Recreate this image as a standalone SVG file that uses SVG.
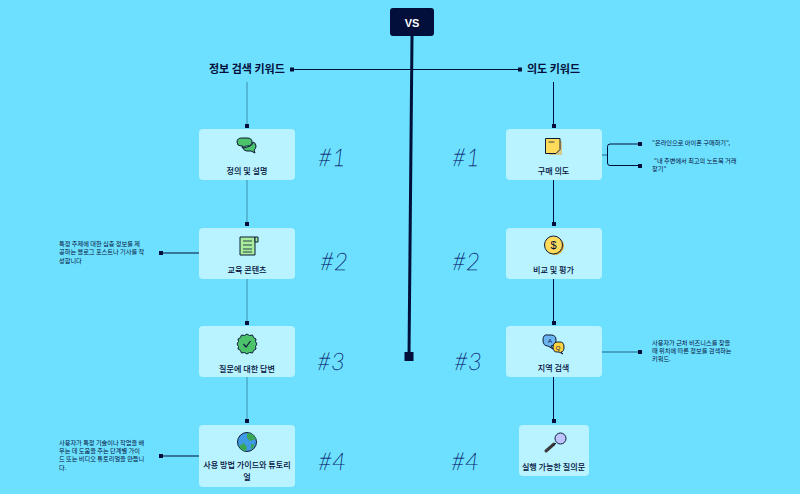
<svg xmlns="http://www.w3.org/2000/svg" width="800" height="494" viewBox="0 0 800 494">
<style>
text{font-family:"Noto Sans CJK KR","Noto Sans",sans-serif;fill:#020f3a}
.n{fill:#b8f3ff}
.l{font-size:8.100px;text-anchor:middle;font-weight:500}
.t{font-size:11px;font-weight:700}
.s{font-size:6.200px}
.h{font-family:"Lato","Liberation Sans",sans-serif;font-size:24px;font-style:italic;font-weight:100;fill:#0a1f6e;stroke:#0a1f6e;stroke-width:.35px;text-anchor:middle}
.c{stroke:#020f3a;stroke-width:1;fill:none}
.c2{stroke:#3b8fae;stroke-width:1;fill:none}
.d{fill:#020f3a}
.i{stroke:#0b1b3a;stroke-width:1}
</style>
<rect width="800" height="494" fill="#6de0ff"/>
<g id="connectors">
<path d="M412 36L409 356" stroke="#020f3a" stroke-width="3" fill="none"/>
<path class="c" d="M292 69.500H520"/>
<path class="c2" d="M247 82V125M247 180V223M247 279V322M247 377V420"/>
<path class="c" d="M553.500 82V125M553.500 180V223M553.500 279V322M553.500 377V420"/>
<path class="c" d="M161 253H199M161 456H199"/>
<path d="M602 155H607" stroke="#3b8fae" stroke-width="1.500" fill="none"/>
<path class="c" d="M640 144H610Q607.500 144 607.500 146.500V163Q607.500 165.500 610 165.500H640"/>
<path d="M602 352H640" stroke="#3b8fae" stroke-width="1.500" fill="none"/>
<g class="d">
<rect x="404.500" y="352" width="9" height="9"/>
<rect x="290" y="67.500" width="4" height="4"/><rect x="518" y="67.500" width="4" height="4"/>
<rect x="245" y="124" width="4" height="4"/><rect x="245" y="222" width="4" height="4"/><rect x="245" y="321" width="4" height="4"/><rect x="245" y="419" width="4" height="4"/>
<rect x="552" y="124" width="4" height="4"/><rect x="552" y="222" width="4" height="4"/><rect x="552" y="321" width="4" height="4"/><rect x="552" y="419" width="4" height="4"/>
<rect x="159" y="251" width="4" height="4"/><rect x="159" y="454" width="4" height="4"/>
<rect x="638" y="142" width="4" height="4"/><rect x="638" y="164" width="4" height="4"/><rect x="638" y="350" width="4" height="4"/>
</g>
</g>
<g id="vs"><rect x="390" y="8" width="44" height="28" rx="3" fill="#020f3a"/><text x="412" y="26.500" text-anchor="middle" font-size="11" font-weight="700" style="fill:#fff;font-family:'Liberation Sans',sans-serif">VS</text></g>
<g id="title-left"><text class="t" x="209" y="73">정보 검색 키워드</text></g>
<g id="title-right"><text class="t" x="527" y="73">의도 키워드</text></g>

<g id="n1"><rect class="n" x="199" y="129" width="96" height="51" rx="4"/>
<path class="i" fill="#4cc26a" d="M241 146q-4 0-4-4 0-4 5-4h5q5 0 5 4 0 4-5 4h-1l-4 2 1-2z"/>
<path class="i" fill="#4cc26a" d="M250 146q3-1 3-4 3 1 3 4 0 3-2 4l1 3-4-2h-4q-3 0-4-3 3 0 7-2z"/>
<text class="l" x="247" y="174">정의 및 설명</text></g>
<g id="n2"><rect class="n" x="199" y="228" width="96" height="51" rx="4"/>
<path class="i" fill="#a8ec9c" d="M240 237h15v18h-15z"/><path class="i" fill="#a8ec9c" d="M255 237h3v5h-3z"/><path d="M243 241h9M243 245h9M243 249h9M243 252h9" stroke="#0b1b3a" stroke-width=".8"/>
<text class="l" x="247" y="273">교육 콘텐츠</text></g>
<g id="n3"><rect class="n" x="199" y="326" width="96" height="51" rx="4"/>
<path class="i" fill="#4cc26a" d="M247 334l2.500 1.500 3-.5 1 2.500 2.500 1.500-.5 2.500 1.500 2.500-1.500 2.500.5 2.500-2.500 1.500-1 2.500-3-.5-2.500 1.500-2.500-1.500-3 .5-1-2.500-2.500-1.500.5-2.500-1.500-2.500 1.500-2.500-.5-2.500 2.500-1.500 1-2.500 3 .5z"/><path d="M243.500 344l2.500 3 4.500-6" fill="none" stroke="#0b1b3a" stroke-width="1.200"/>
<text class="l" x="247" y="372">질문에 대한 답변</text></g>
<g id="n4"><rect class="n" x="199" y="425" width="96" height="62" rx="4"/>
<circle class="i" cx="247" cy="442" r="9.500" fill="#3f9ae6"/><path fill="#3aa655" d="M247 433q7 0 9 6l-6 2-3-3zM239 446l5-3 3 4-1 4q-5 0-7-5z M251 444l4 1-4 5z"/>
<text class="l" x="247" y="468">사용 방법 가이드와 튜토리</text><text class="l" x="247" y="480">얼</text></g>

<g id="m1"><rect class="n" x="506" y="129" width="96" height="51" rx="4"/>
<path fill="#d6c98a" d="M549 141h13v14h-13z"/><path class="i" fill="#ffdb5c" d="M545.500 138.500h14.500v11l-4 4h-10.500z"/><path d="M548.500 142h6" stroke="#0b1b3a" stroke-width=".8"/>
<text class="l" x="553.500" y="174">구매 의도</text></g>
<g id="m2"><rect class="n" x="506" y="228" width="96" height="51" rx="4"/>
<circle cx="555" cy="246" r="9" fill="#e0a92f"/><circle class="i" cx="553.500" cy="245" r="9" fill="#ffdb5c"/>
<text x="553.500" y="249" text-anchor="middle" font-size="11" style="font-family:'Liberation Sans',sans-serif">$</text>
<text class="l" x="553.500" y="273">비교 및 평가</text></g>
<g id="m3"><rect class="n" x="506" y="326" width="96" height="51" rx="4"/>
<path class="i" fill="#6db5f0" d="M548 335h3q5 0 5 5t-5 6l2 3-5-3q-5 0-5-6t5-5z"/>
<path class="i" fill="#ffd23f" d="M558 342h2q4 0 4 5t-3 5l2 2-4-2h-2q-4 0-4-5t5-5z"/>
<text x="550" y="343" text-anchor="middle" font-size="6" style="font-family:'Liberation Sans',sans-serif">A</text><text x="558" y="350" text-anchor="middle" font-size="6" style="font-family:'Liberation Sans',sans-serif">Q</text>
<text class="l" x="553.500" y="371">지역 검색</text></g>
<g id="m4"><rect class="n" x="519" y="425" width="70" height="51" rx="4"/>
<path d="M546 451l8-7" stroke="#3a3a3a" stroke-width="3" stroke-linecap="round"/>
<circle class="i" cx="560.500" cy="438.500" r="5.500" fill="#bfc4ff"/><path d="M556 443l-3 3" stroke="#0b1b3a"/>
<text class="l" x="553.500" y="470">실행 가능한 질의문</text></g>

<g id="ranks"><text class="h" x="332" y="166">#1</text><text class="h" x="334" y="270">#2</text><text class="h" x="331" y="370">#3</text><text class="h" x="332" y="470">#4</text>
<text class="h" x="466" y="166">#1</text><text class="h" x="466" y="270">#2</text><text class="h" x="468" y="370">#3</text><text class="h" x="465" y="470">#4</text></g>

<g id="notes">
<text class="s" x="59" y="246">특정 주제에 대한 심층 정보를 제</text><text class="s" x="59" y="254">공하는 블로그 포스트나 기사를 작</text><text class="s" x="59" y="263">성합니다</text>
<text class="s" x="59" y="445">사용자가 특정 기술이나 작업을 배</text><text class="s" x="59" y="453">우는 데 도움을 주는 단계별 가이</text><text class="s" x="59" y="461">드 또는 비디오 튜토리얼을 만듭니</text><text class="s" x="59" y="470">다.</text>
<text class="s" x="652" y="145">"온라인으로 아이폰 구매하기",</text><text class="s" x="654" y="163">"내 주변에서 최고의 노트북 거래</text><text class="s" x="652" y="171">찾기"</text>
<text class="s" x="652" y="345">사용자가 근처 비즈니스를 찾을</text><text class="s" x="652" y="353">때 위치에 따른 정보를 검색하는</text><text class="s" x="652" y="361">키워드.</text>
</g>
</svg>
